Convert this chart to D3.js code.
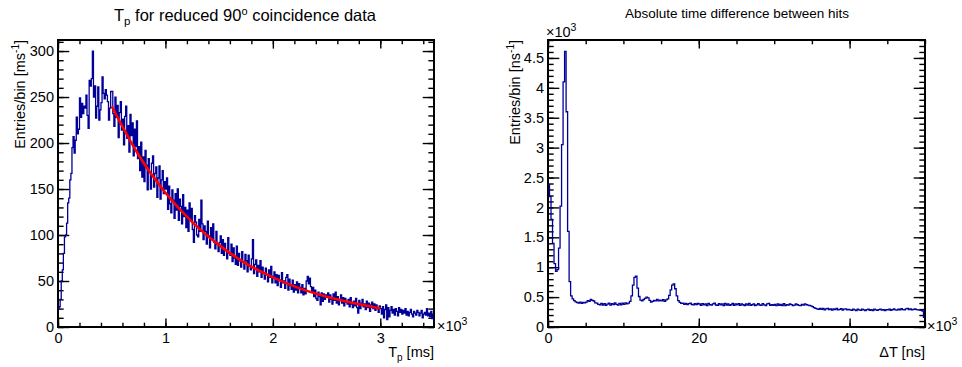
<!DOCTYPE html>
<html>
<head>
<meta charset="utf-8">
<script src="https://cdnjs.cloudflare.com/ajax/libs/d3/7.8.5/d3.min.js"></script>
<style>
  body { margin: 0; background: #fff; }
  text { font-family: "Liberation Sans", Arial, sans-serif; fill: #000; }
</style>
</head>
<body>
<div id="chart"></div>
<script>
// left: Tp histogram, 10 ms bins from 0 to 3500 ms
const leftBinWidth = 10;
const leftCounts = [
  20, 22, 30, 50, 62, 80, 98, 100, 113, 135, 140, 160, 167, 195, 207, 189, 203, 228, 210, 215, 249, 228, 243, 232, 240,
  238, 252, 230, 216, 268, 262, 270, 300, 250, 262, 227, 240, 261, 225, 236, 244, 272, 254, 248, 258, 252, 245, 225, 238, 256,
  256, 232, 218, 250, 228, 241, 206, 233, 245, 214, 226, 198, 229, 240, 205, 219, 190, 231, 208, 222, 186, 215, 196, 224, 183,
  196, 170, 201, 163, 185, 158, 192, 176, 149, 183, 168, 150, 178, 186, 152, 167, 174, 141, 162, 175, 139, 160, 170, 145, 158,
  150, 162, 128, 153, 134, 124, 149, 138, 118, 145, 127, 150, 116, 139, 131, 112, 144, 120, 130, 108, 127, 104, 135, 116, 129,
  106, 92, 121, 114, 100, 98, 117, 104, 138, 112, 95, 110, 104, 90, 115, 99, 86, 108, 96, 112, 92, 85, 104, 90, 82,
  92, 99, 80, 95, 78, 91, 84, 74, 97, 80, 78, 90, 71, 86, 75, 68, 88, 67, 80, 72, 65, 82, 71, 63, 79,
  72, 60, 78, 66, 62, 74, 95, 58, 68, 73, 55, 67, 60, 72, 54, 65, 58, 52, 64, 57, 49, 62, 54, 66, 48,
  55, 60, 48, 57, 45, 56, 51, 43, 59, 48, 50, 42, 54, 57, 40, 52, 45, 41, 51, 38, 46, 40, 49, 37, 47,
  43, 37, 46, 35, 42, 36, 50, 55, 47, 53, 44, 38, 43, 33, 40, 31, 29, 38, 33, 24, 37, 28, 36, 30, 35,
  33, 37, 27, 35, 30, 25, 36, 29, 38, 26, 33, 24, 30, 35, 26, 32, 23, 31, 27, 25, 30, 22, 32, 25, 21,
  28, 23, 31, 21, 15, 29, 20, 26, 30, 22, 25, 19, 28, 21, 26, 17, 24, 27, 20, 25, 18, 24, 20, 16, 23,
  20, 14, 22, 10, 19, 24, 8, 21, 11, 18, 22, 15, 19, 13, 20, 17, 12, 21, 16, 19, 14, 18, 15, 20, 13,
  17, 12, 16, 19, 14, 11, 17, 15, 13, 18, 16, 12, 15, 18, 10, 14, 16, 13, 20, 12, 15, 11, 17, 9, 14
];
const fitT = [500, 750, 1000, 1250, 1500, 1750, 2000, 2250, 2500, 2750, 3000];
const fitV = [240, 187, 146, 114, 89, 69, 54, 42, 33, 26, 20];

const leftXTicks = [0, 1000, 2000, 3000];
const leftYTicks = [0, 50, 100, 150, 200, 250, 300];

// right: time difference histogram, 200 ns bins from 0 to 50000 ns
const rightBinWidth = 200;
const rightCounts = [
  2380, 2180, 1800, 1400, 1060, 930, 960, 1320, 2020, 3050, 4100, 4610, 3600, 1600, 760, 520, 470, 440, 420, 410, 400, 415, 395, 410, 405,
  415, 440, 430, 460, 445, 435, 405, 398, 380, 372, 395, 368, 390, 362, 384, 398, 366, 392, 375, 402, 380, 365, 396, 372, 400,
  380, 404, 386, 398, 430, 520, 700, 830, 850, 650, 510, 450, 436, 460, 478, 500, 488, 446, 418, 430, 444, 438, 460, 436, 450,
  436, 456, 430, 452, 470, 530, 620, 700, 720, 640, 520, 440, 412, 396, 400, 380, 394, 374, 390, 398, 376, 370, 390, 376, 394,
  385, 362, 392, 370, 388, 358, 394, 372, 365, 386, 398, 368, 362, 392, 370, 388, 360, 394, 368, 385, 362, 372, 396, 364, 386,
  370, 392, 362, 388, 372, 356, 386, 368, 394, 362, 372, 388, 360, 370, 392, 368, 362, 390, 370, 360, 388, 396, 362, 374, 364,
  378, 358, 388, 364, 376, 360, 390, 356, 372, 366, 388, 374, 358, 366, 386, 372, 362, 356, 380, 366, 388, 372, 366, 360, 352,
  340, 325, 312, 304, 296, 310, 294, 312, 288, 302, 310, 290, 304, 284, 302, 292, 310, 286, 296, 306, 284, 298, 304, 286, 296,
  288, 280, 300, 286, 276, 298, 288, 280, 300, 286, 276, 292, 298, 280, 290, 274, 298, 288, 280, 292, 300, 282, 290, 276, 292,
  288, 298, 280, 292, 304, 286, 282, 298, 288, 306, 292, 286, 302, 310, 292, 302, 286, 296, 304, 292, 288, 282, 278, 268, 160
];
const rightXTicks = [0, 20000, 40000];
const rightYTicks = [0, 500, 1000, 1500, 2000, 2500, 3000, 3500, 4000, 4500];

const width = 962;
const height = 367;
const lineBlue = "#000099";

const svg = d3.select("#chart")
  .append("svg")
  .attr("width", width)
  .attr("height", height);

svg.append("rect").attr("width", width).attr("height", height).attr("fill", "#fff");

function range(a, b, step) {
  return d3.range(a, b + step / 2, step);
}

// ROOT-like frame: inward ticks on all four sides
function drawFrame(f, x, y, opt) {
  const w = f.right - f.left, h = f.bottom - f.top;
  const g = svg.append("g").attr("transform", "translate(" + f.left + "," + f.top + ")");
  const tx = h * 0.03, ty = w * 0.03;

  function ax(gen, vals, size, fmt, tr) {
    const a = g.append("g")
      .attr("transform", tr)
      .call(gen.tickValues(vals).tickSize(size).tickSizeOuter(0).tickPadding(opt.pad || 6).tickFormat(fmt));
    a.select(".domain").remove();
    a.selectAll("line").attr("stroke", "#000").attr("stroke-width", 1.4);
    a.selectAll("text").style("font-size", "14.5px").attr("fill", "#000");
    return a;
  }
  const none = () => "";
  // bottom + top
  ax(d3.axisBottom(x), opt.xMinor, -tx / 2, none, "translate(0," + h + ")");
  ax(d3.axisBottom(x), opt.xMajor, -tx, opt.xFmt, "translate(0," + h + ")");
  ax(d3.axisTop(x), opt.xMinor, -tx / 2, none, "");
  ax(d3.axisTop(x), opt.xMajor, -tx, none, "");
  // left + right
  ax(d3.axisLeft(y), opt.yMinor, -ty / 2, none, "");
  const yl = ax(d3.axisLeft(y), opt.yMajor, -ty, opt.yFmt, "");
  yl.selectAll("text").attr("x", -4);
  ax(d3.axisRight(y), opt.yMinor, -ty / 2, none, "translate(" + w + ",0)");
  ax(d3.axisRight(y), opt.yMajor, -ty, none, "translate(" + w + ",0)");

  g.append("rect")
    .attr("width", w).attr("height", h)
    .attr("fill", "none").attr("stroke", "#000").attr("stroke-width", 2);
  return g;
}

function histPoints(counts, bw) {
  const pts = counts.map((c, i) => [i * bw, c]);
  pts.push([counts.length * bw, counts[counts.length - 1]]);
  return pts;
}

function times10cubed(x0, yBase) {
  const t = svg.append("text").attr("x", x0).attr("y", yBase).style("font-size", "14.5px");
  t.append("tspan").text("\u00d710");
  t.append("tspan").attr("dy", -6).style("font-size", "10.5px").text("3");
}

// ---------- left panel ----------
const lf = { left: 58, right: 434, top: 40, bottom: 327 };
const xl = d3.scaleLinear().domain([0, 3500]).range([0, lf.right - lf.left]);
const yl = d3.scaleLinear().domain([0, 312]).range([lf.bottom - lf.top, 0]);

const gl = drawFrame(lf, xl, yl, {
  xMajor: leftXTicks, xMinor: range(0, 3400, 200), xFmt: d => d / 1000,
  yMajor: leftYTicks, yMinor: range(0, 310, 10), yFmt: d => d
});

gl.append("path")
  .datum(histPoints(leftCounts, leftBinWidth))
  .attr("fill", "none")
  .attr("stroke", lineBlue)
  .attr("stroke-width", 1.3)
  .attr("d", d3.line().x(d => xl(d[0])).y(d => yl(d[1])).curve(d3.curveStepAfter));

gl.append("path")
  .datum(fitT.map((t, i) => [t, fitV[i]]))
  .attr("fill", "none")
  .attr("stroke", "#ff0000")
  .attr("stroke-width", 2.6)
  .attr("d", d3.line().x(d => xl(d[0])).y(d => yl(d[1])).curve(d3.curveMonotoneX));

const tl = svg.append("text").attr("x", 245).attr("y", 21)
  .attr("text-anchor", "middle").style("font-size", "16.5px");
tl.append("tspan").text("T");
tl.append("tspan").attr("dy", 4).style("font-size", "11.5px").text("p");
tl.append("tspan").attr("dy", -4).text(" for reduced 90");
tl.append("tspan").attr("dy", -6).style("font-size", "11px").text("o");
tl.append("tspan").attr("dy", 6).text(" coincidence data");

const xtl = svg.append("text").attr("x", lf.right).attr("y", 357)
  .attr("text-anchor", "end").style("font-size", "14.5px");
xtl.append("tspan").text("T");
xtl.append("tspan").attr("dy", 4).style("font-size", "10px").text("p");
xtl.append("tspan").attr("dy", -4).text(" [ms]");

const ytl = svg.append("text")
  .attr("transform", "translate(25," + lf.top + ") rotate(-90)")
  .attr("text-anchor", "end").style("font-size", "14.5px");
ytl.append("tspan").text("Entries/bin [ms");
ytl.append("tspan").attr("dy", -6).style("font-size", "10px").text("-1");
ytl.append("tspan").attr("dy", 6).text("]");

times10cubed(437, 331);

// ---------- right panel ----------
const rf = { left: 548, right: 925, top: 40, bottom: 327 };
const xr = d3.scaleLinear().domain([0, 50000]).range([0, rf.right - rf.left]);
const yr = d3.scaleLinear().domain([0, 4800]).range([rf.bottom - rf.top, 0]);

const gr = drawFrame(rf, xr, yr, {
  xMajor: rightXTicks, xMinor: range(0, 50000, 5000), xFmt: d => d / 1000,
  yMajor: rightYTicks, yMinor: range(0, 4800, 100), yFmt: d => d / 1000
});

gr.append("path")
  .datum(histPoints(rightCounts, rightBinWidth))
  .attr("fill", "none")
  .attr("stroke", lineBlue)
  .attr("stroke-width", 1.3)
  .attr("d", d3.line().x(d => xr(d[0])).y(d => yr(d[1])).curve(d3.curveStepAfter));

svg.append("text").attr("x", 737).attr("y", 18)
  .attr("text-anchor", "middle").style("font-size", "13.5px")
  .text("Absolute time difference between hits");

svg.append("text").attr("x", rf.right).attr("y", 357)
  .attr("text-anchor", "end").style("font-size", "14.5px")
  .text("\u0394T [ns]");

const ytr = svg.append("text")
  .attr("transform", "translate(520," + rf.top + ") rotate(-90)")
  .attr("text-anchor", "end").style("font-size", "14.5px");
ytr.append("tspan").text("Entries/bin [ns");
ytr.append("tspan").attr("dy", -6).style("font-size", "10px").text("-1");
ytr.append("tspan").attr("dy", 6).text("]");

times10cubed(927, 331);
times10cubed(546, 37);
</script>
</body>
</html>
